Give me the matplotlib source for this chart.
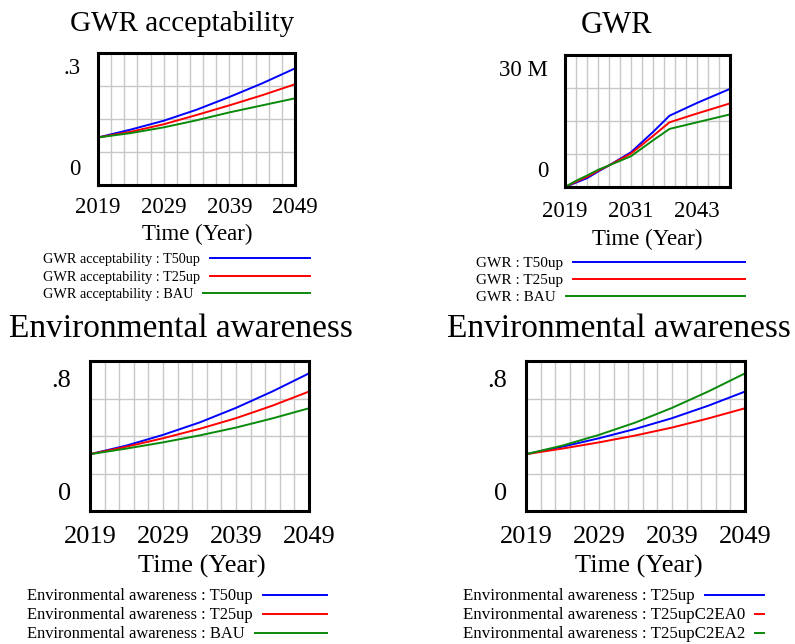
import numpy as np
import matplotlib
matplotlib.use("Agg")
import matplotlib.pyplot as plt
from matplotlib.lines import Line2D
from matplotlib.transforms import blended_transform_factory

W, H = 795, 644
plt.rcParams['font.family'] = ['Liberation Serif', 'DejaVu Serif']

# values
years = [2019, 2024, 2029, 2034, 2039, 2044, 2049]
acc_t50up = [0.108, 0.126, 0.146, 0.171, 0.200, 0.231, 0.265]
acc_t25up = [0.108, 0.121, 0.138, 0.159, 0.181, 0.204, 0.229]
acc_bau = [0.108, 0.118, 0.131, 0.147, 0.165, 0.181, 0.197]

gwr_years = [2019, 2021, 2023, 2025, 2027, 2031, 2035, 2038, 2043, 2049]
gwr_t50up = [0, 1.0, 2.0, 3.5, 4.9, 7.9, 12.5, 16.2, 19.1, 22.3]  # millions
gwr_t25up = [0, 1.2, 2.3, 3.7, 4.9, 7.6, 11.6, 14.7, 16.7, 19.0]
gwr_bau = [0, 1.4, 2.6, 3.9, 4.9, 7.0, 10.6, 13.2, 14.7, 16.5]

ea_t50up = [0.303, 0.349, 0.406, 0.472, 0.550, 0.638, 0.734]
ea_t25up = [0.303, 0.343, 0.388, 0.438, 0.495, 0.562, 0.637]
ea_bau = [0.303, 0.333, 0.366, 0.403, 0.445, 0.494, 0.548]

ea2_t25up = [0.303, 0.343, 0.388, 0.438, 0.495, 0.562, 0.637]
ea2_c2ea0 = [0.303, 0.333, 0.366, 0.403, 0.445, 0.494, 0.548]
ea2_c2ea2 = [0.303, 0.349, 0.406, 0.472, 0.550, 0.638, 0.734]

BLUE, RED, GREEN = '#0000ff', '#ff0000', '#0a8a0a'

fig = plt.figure(figsize=(W / 100, H / 100), dpi=100)


def fy(y):
    return 1 - y / H


def panel(box, ytop, ylabels, ylab_right, ylab_base, xticks, xtick_base, tick_fs,
          xlab_x, xlab_base, title, title_x, title_base, title_fs,
          series, leg_x, leg_base, leg_end, leg_fs):
    l, t, r, b = box
    ax = fig.add_axes([l / W, fy(b), (r - l) / W, (b - t) / H])
    for x, y, c, name in series:
        ax.plot(x, y, color=c, lw=1.4, solid_joinstyle='round')
    ax.set_xlim(2019, 2049)
    ax.set_ylim(0, ytop)
    ax.set_xticks(np.arange(2019, 2050, 2))
    ax.set_yticks(np.linspace(0, ytop, 5))
    ax.set_xticklabels([])
    ax.set_yticklabels([])
    ax.tick_params(length=0)
    ax.grid(True, color='#c8c8c8', lw=1.0)
    for s in ax.spines.values():
        s.set_linewidth(2.2)
        s.set_color('black')

    tr = blended_transform_factory(ax.transData, fig.transFigure)
    for yr in xticks:
        ax.text(yr, fy(xtick_base), str(yr), transform=tr, ha='center',
                va='baseline', fontsize=tick_fs, clip_on=False)
    fig.text(xlab_x / W, fy(xlab_base), 'Time (Year)', ha='center',
             va='baseline', fontsize=tick_fs)
    for lab, base in zip(ylabels, ylab_base):
        fig.text(ylab_right / W, fy(base), lab, ha='right', va='baseline',
                 fontsize=tick_fs)
    fig.text(title_x / W, fy(title_base), title, ha='center', va='baseline',
             fontsize=title_fs)

    renderer = fig.canvas.get_renderer()
    for (x, y, c, name), base in zip(series, leg_base):
        txt = fig.text(leg_x / W, fy(base), name, ha='left', va='baseline',
                       fontsize=leg_fs)
        ext = txt.get_window_extent(renderer)
        x0 = ext.x1 + 10
        fig.add_artist(Line2D([x0 / W, leg_end / W], [fy(base - 5)] * 2,
                              color=c, lw=1.4, transform=fig.transFigure))


panel((98, 53, 295, 185), 0.3, ['.3', '0'], 81, [74, 175],
      [2019, 2029, 2039, 2049], 213, 16.5, 197, 240,
      'GWR acceptability', 182, 31, 21,
      [(years, acc_t50up, BLUE, 'GWR acceptability : T50up'),
       (years, acc_t25up, RED, 'GWR acceptability : T25up'),
       (years, acc_bau, GREEN, 'GWR acceptability : BAU')],
      43, [263, 281, 298], 310, 10.3)

panel((565, 55, 730, 187), 30, ['30 M', '0'], 548, [76, 177],
      [2019, 2031, 2043], 217, 16.5, 647, 245,
      'GWR', 617, 33, 22,
      [(gwr_years, gwr_t50up, BLUE, 'GWR : T50up'),
       (gwr_years, gwr_t25up, RED, 'GWR : T25up'),
       (gwr_years, gwr_bau, GREEN, 'GWR : BAU')],
      476, [267, 284, 301], 745, 11)

panel((90, 361, 309, 511), 0.8, ['.8', '0'], 71, [387, 500],
      [2019, 2029, 2039, 2049], 543, 19, 202, 573,
      'Environmental awareness', 181, 337, 24,
      [(years, ea_t50up, BLUE, 'Environmental awareness : T50up'),
       (years, ea_t25up, RED, 'Environmental awareness : T25up'),
       (years, ea_bau, GREEN, 'Environmental awareness : BAU')],
      27, [600, 619, 638], 327, 11.9)

panel((526, 361, 745, 511), 0.8, ['.8', '0'], 507, [387, 500],
      [2019, 2029, 2039, 2049], 543, 19, 639, 573,
      'Environmental awareness', 619, 337, 24,
      [(years, ea2_t25up, BLUE, 'Environmental awareness : T25up'),
       (years, ea2_c2ea0, RED, 'Environmental awareness : T25upC2EA0'),
       (years, ea2_c2ea2, GREEN, 'Environmental awareness : T25upC2EA2')],
      463, [600, 619, 638], 764, 12.2)

fig.savefig('out.png', dpi=100)
